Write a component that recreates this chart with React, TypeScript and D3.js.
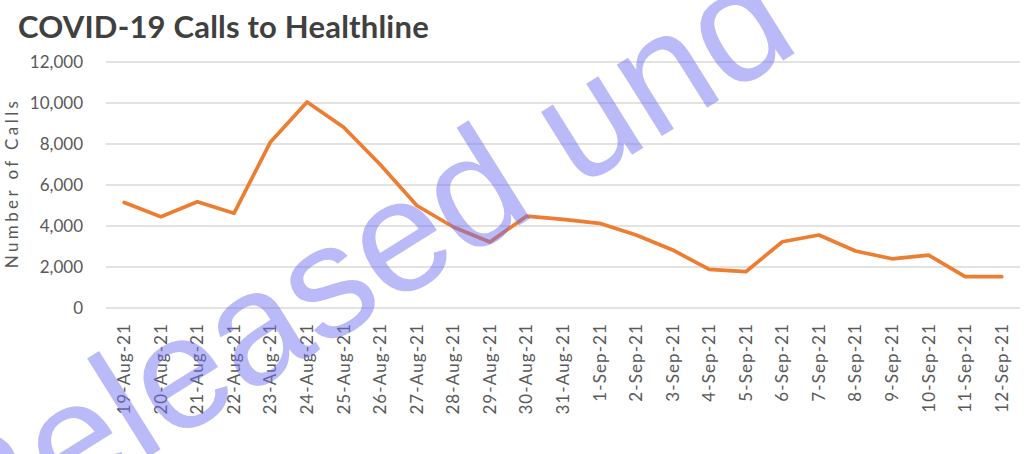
import React from "react";
import * as d3 from "d3";

const categories = [
  "19-Aug-21","20-Aug-21","21-Aug-21","22-Aug-21","23-Aug-21","24-Aug-21","25-Aug-21",
  "26-Aug-21","27-Aug-21","28-Aug-21","29-Aug-21","30-Aug-21","31-Aug-21","1-Sep-21",
  "2-Sep-21","3-Sep-21","4-Sep-21","5-Sep-21","6-Sep-21","7-Sep-21","8-Sep-21",
  "9-Sep-21","10-Sep-21","11-Sep-21","12-Sep-21",
];
const calls = [
  5150, 4450, 5180, 4620, 8100, 10050, 8820, 7000, 5000, 3950, 3220, 4480, 4320, 4130,
  3560, 2830, 1880, 1770, 3230, 3560, 2780, 2400, 2580, 1530, 1530,
];
const yTicks = [0, 2000, 4000, 6000, 8000, 10000, 12000];
const title = "COVID-19 Calls to Healthline";
const yTitle = "Number of Calls";
const watermark = "Released und";

const W = 1034;
const H = 454;
const plotLeft = 106;
const plotRight = 1020;
const plotTop = 62;
const plotBottom = 308;

export default function App() {
  const x = d3.scaleBand<string>().domain(categories).range([plotLeft, plotRight]).padding(0);
  const cx = (c: string) => (x(c) as number) + x.bandwidth() / 2;
  const y = d3.scaleLinear().domain([0, 12000]).range([plotBottom, plotTop]);
  const fmt = d3.format(",");
  const line = d3
    .line<number>()
    .x((_, i) => cx(categories[i]))
    .y((d) => y(d));

  const font = "Lato, 'Open Sans', sans-serif";

  return (
    <svg
      width={W}
      height={H}
      viewBox={`0 0 ${W} ${H}`}
      style={{ position: "absolute", left: 0, top: 0, display: "block", background: "#fff" }}
    >
      <rect x={0} y={0} width={W} height={H} fill="#fff" />
      <text x={18} y={38} fontFamily={font} fontWeight={700} fontSize={31} letterSpacing={0.2} fill="#404040">
        {title}
      </text>
      {yTicks.map((t) => (
        <g key={t}>
          <line x1={plotLeft} x2={plotRight} y1={y(t)} y2={y(t)} stroke="#d9d9d9" strokeWidth={1.3} />
          <text
            x={83}
            y={y(t)}
            dy="0.35em"
            textAnchor="end"
            fontFamily={font}
            fontSize={17}
            fill="#595959"
          >
            {fmt(t)}
          </text>
        </g>
      ))}
      <text
        transform={`translate(18, 183) rotate(-90)`}
        textAnchor="middle"
        fontFamily={font}
        fontSize={17}
        letterSpacing={3.4}
        fill="#595959"
      >
        {yTitle}
      </text>
      {categories.map((c) => (
        <text
          key={c}
          transform={`translate(${cx(c)}, 323) rotate(-90)`}
          textAnchor="end"
          dy="0.35em"
          fontFamily={font}
          fontSize={17}
          letterSpacing={1.1}
          fill="#595959"
        >
          {c}
        </text>
      ))}
      <path
        d={line(calls) || ""}
        fill="none"
        stroke="#ED7D31"
        strokeWidth={3.7}
        strokeLinejoin="round"
        strokeLinecap="round"
      />
      <text
        transform={`translate(-34, 571) rotate(-32)`}
        fontFamily="'Liberation Sans', Arial, sans-serif"
        fontSize={160}
        fill="rgb(110,110,240)"
        fillOpacity={0.48}
      >
        {watermark}
      </text>
    </svg>
  );
}
